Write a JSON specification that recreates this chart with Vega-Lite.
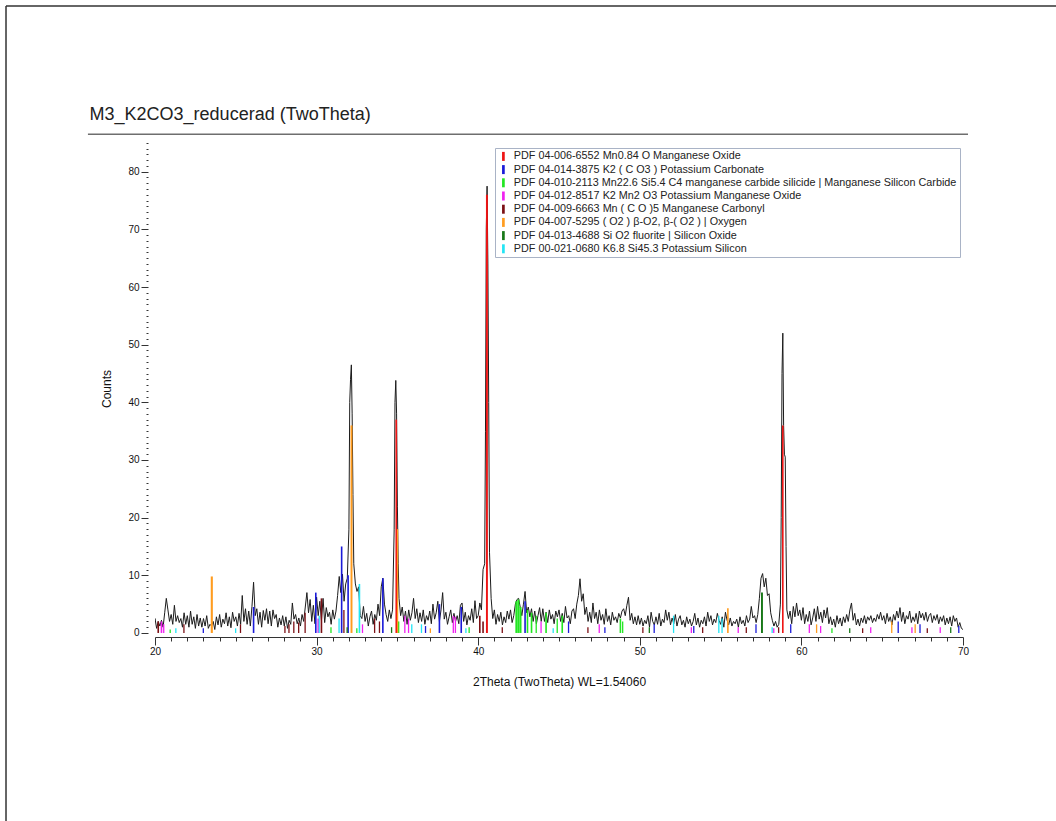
{
  "$schema": "https://vega.github.io/schema/vega-lite/v6.json",
  "autosize": "none",
  "width": 808,
  "height": 497,
  "padding": {"left": 155, "top": 140, "right": 93, "bottom": 184},
  "background": "white",
  "config": {
    "view": {"stroke": null},
    "font": "Liberation Sans"
  },
  "datasets": {
    "phases": [
      {"k": 1, "name": "PDF 04-006-6552 Mn0.84 O Manganese Oxide"},
      {"k": 2, "name": "PDF 04-014-3875 K2 ( C O3 ) Potassium Carbonate"},
      {"k": 3, "name": "PDF 04-010-2113 Mn22.6 Si5.4 C4 manganese carbide silicide | Manganese Silicon Carbide"},
      {"k": 4, "name": "PDF 04-012-8517 K2 Mn2 O3 Potassium Manganese Oxide"},
      {"k": 5, "name": "PDF 04-009-6663 Mn ( C O )5 Manganese Carbonyl"},
      {"k": 6, "name": "PDF 04-007-5295 ( O2 ) β-O2, β-( O2 ) | Oxygen"},
      {"k": 7, "name": "PDF 04-013-4688 Si O2 fluorite | Silicon Oxide"},
      {"k": 8, "name": "PDF 00-021-0680 K6.8 Si45.3 Potassium Silicon"}
    ],
    "scan": [
      {"t":19.8,"c":0.5},{"t":19.9,"c":1.0},
      {"t":20.0,"c":2.5},{"t":20.1,"c":0.8},{"t":20.2,"c":2.0},{"t":20.3,"c":1.2},{"t":20.4,"c":2.2},{"t":20.5,"c":1.0},{"t":20.6,"c":3.5},{"t":20.7,"c":6.0},{"t":20.8,"c":4.0},{"t":20.9,"c":2.0},
      {"t":21.0,"c":3.2},{"t":21.1,"c":1.5},{"t":21.2,"c":4.8},{"t":21.3,"c":2.0},{"t":21.4,"c":3.0},{"t":21.5,"c":1.8},{"t":21.6,"c":2.5},{"t":21.7,"c":1.0},{"t":21.8,"c":3.5},{"t":21.9,"c":1.5},
      {"t":22.0,"c":3.0},{"t":22.1,"c":1.0},{"t":22.2,"c":3.8},{"t":22.3,"c":1.5},{"t":22.4,"c":2.8},{"t":22.5,"c":0.8},{"t":22.6,"c":3.2},{"t":22.7,"c":1.2},{"t":22.8,"c":2.6},{"t":22.9,"c":1.0},
      {"t":23.0,"c":2.5},{"t":23.1,"c":1.2},{"t":23.2,"c":3.0},{"t":23.3,"c":0.8},{"t":23.4,"c":1.5},{"t":23.5,"c":1.2},{"t":23.6,"c":2.0},{"t":23.7,"c":0.6},{"t":23.8,"c":2.8},{"t":23.9,"c":1.4},
      {"t":24.0,"c":3.2},{"t":24.1,"c":1.0},{"t":24.2,"c":2.4},{"t":24.3,"c":1.6},{"t":24.4,"c":3.5},{"t":24.5,"c":1.2},{"t":24.6,"c":2.8},{"t":24.7,"c":0.9},{"t":24.8,"c":3.6},{"t":24.9,"c":2.0},
      {"t":25.0,"c":2.8},{"t":25.1,"c":1.2},{"t":25.2,"c":3.4},{"t":25.3,"c":1.5},{"t":25.4,"c":6.5},{"t":25.5,"c":2.0},{"t":25.6,"c":4.2},{"t":25.7,"c":1.5},{"t":25.8,"c":3.8},{"t":25.9,"c":1.2},
      {"t":26.0,"c":4.6},{"t":26.1,"c":8.8},{"t":26.2,"c":3.0},{"t":26.3,"c":4.2},{"t":26.4,"c":1.5},{"t":26.5,"c":3.6},{"t":26.6,"c":1.0},{"t":26.7,"c":3.9},{"t":26.8,"c":2.2},{"t":26.9,"c":4.2},
      {"t":27.0,"c":1.6},{"t":27.1,"c":3.8},{"t":27.2,"c":1.2},{"t":27.3,"c":4.0},{"t":27.4,"c":2.5},{"t":27.5,"c":3.2},{"t":27.6,"c":1.0},{"t":27.7,"c":2.6},{"t":27.8,"c":1.4},{"t":27.9,"c":3.0},
      {"t":28.0,"c":1.2},{"t":28.1,"c":2.8},{"t":28.2,"c":0.8},{"t":28.3,"c":2.2},{"t":28.4,"c":1.5},{"t":28.5,"c":5.2},{"t":28.6,"c":2.4},{"t":28.7,"c":3.2},{"t":28.8,"c":1.6},{"t":28.9,"c":2.6},
      {"t":29.0,"c":1.2},{"t":29.1,"c":3.2},{"t":29.2,"c":2.0},{"t":29.3,"c":4.5},{"t":29.4,"c":7.0},{"t":29.5,"c":3.5},{"t":29.6,"c":5.8},{"t":29.7,"c":2.0},{"t":29.8,"c":4.8},{"t":29.9,"c":1.6},
      {"t":30.0,"c":6.2},{"t":30.1,"c":3.0},{"t":30.2,"c":5.5},{"t":30.3,"c":2.2},{"t":30.4,"c":6.0},{"t":30.5,"c":1.8},{"t":30.6,"c":4.4},{"t":30.7,"c":2.8},{"t":30.8,"c":3.6},{"t":30.9,"c":1.5},
      {"t":31.0,"c":4.0},{"t":31.1,"c":2.4},{"t":31.2,"c":3.8},{"t":31.3,"c":6.5},{"t":31.4,"c":9.8},{"t":31.5,"c":7.0},{"t":31.6,"c":10.2},{"t":31.7,"c":5.5},{"t":31.8,"c":8.5},{"t":31.9,"c":9.5},
      {"t":32.0,"c":18.0},{"t":32.05,"c":40.0},{"t":32.1,"c":44.0},{"t":32.15,"c":46.5},{"t":32.2,"c":38.0},{"t":32.25,"c":24.0},{"t":32.3,"c":12.0},{"t":32.4,"c":8.5},{"t":32.5,"c":7.2},{"t":32.6,"c":8.0},{"t":32.7,"c":3.0},{"t":32.8,"c":2.5},{"t":32.9,"c":4.6},
      {"t":33.0,"c":2.0},{"t":33.1,"c":3.4},{"t":33.2,"c":1.2},{"t":33.3,"c":2.8},{"t":33.4,"c":3.8},{"t":33.5,"c":1.5},{"t":33.6,"c":3.2},{"t":33.7,"c":2.2},{"t":33.8,"c":5.0},{"t":33.9,"c":3.0},
      {"t":34.0,"c":8.0},{"t":34.1,"c":9.5},{"t":34.2,"c":5.0},{"t":34.3,"c":3.2},{"t":34.4,"c":2.0},{"t":34.5,"c":4.0},{"t":34.6,"c":2.5},{"t":34.7,"c":4.0},{"t":34.8,"c":18.0},{"t":34.85,"c":40.0},{"t":34.9,"c":43.8},{"t":34.95,"c":38.0},{"t":35.0,"c":22.0},{"t":35.05,"c":12.0},{"t":35.1,"c":6.0},{"t":35.2,"c":3.0},
      {"t":35.3,"c":4.5},{"t":35.4,"c":2.0},{"t":35.5,"c":3.8},{"t":35.6,"c":1.5},{"t":35.7,"c":4.0},{"t":35.8,"c":2.2},{"t":35.9,"c":3.5},
      {"t":36.0,"c":6.0},{"t":36.1,"c":2.5},{"t":36.2,"c":4.2},{"t":36.3,"c":1.8},{"t":36.4,"c":3.5},{"t":36.5,"c":2.0},{"t":36.6,"c":4.0},{"t":36.7,"c":1.5},{"t":36.8,"c":3.0},{"t":36.9,"c":2.2},
      {"t":37.0,"c":3.8},{"t":37.1,"c":1.6},{"t":37.2,"c":5.0},{"t":37.3,"c":2.4},{"t":37.4,"c":3.5},{"t":37.5,"c":5.5},{"t":37.6,"c":2.0},{"t":37.7,"c":4.0},{"t":37.8,"c":7.0},{"t":37.9,"c":2.4},
      {"t":38.0,"c":3.6},{"t":38.1,"c":1.5},{"t":38.2,"c":2.8},{"t":38.3,"c":4.0},{"t":38.4,"c":1.8},{"t":38.5,"c":3.4},{"t":38.6,"c":2.0},{"t":38.7,"c":3.0},{"t":38.8,"c":1.6},{"t":38.9,"c":4.8},
      {"t":39.0,"c":5.2},{"t":39.1,"c":2.0},{"t":39.2,"c":3.6},{"t":39.3,"c":1.4},{"t":39.4,"c":3.0},{"t":39.5,"c":2.2},{"t":39.6,"c":4.2},{"t":39.7,"c":1.8},{"t":39.8,"c":5.6},{"t":39.9,"c":2.5},
      {"t":40.0,"c":3.0},{"t":40.1,"c":5.2},{"t":40.2,"c":4.0},{"t":40.3,"c":11.0},{"t":40.4,"c":12.0},{"t":40.45,"c":35.0},{"t":40.5,"c":70.0},{"t":40.55,"c":77.5},{"t":40.6,"c":64.0},{"t":40.65,"c":40.0},{"t":40.7,"c":14.0},{"t":40.8,"c":6.0},{"t":40.9,"c":2.5},
      {"t":41.0,"c":4.0},{"t":41.1,"c":1.5},{"t":41.2,"c":3.2},{"t":41.3,"c":2.0},{"t":41.4,"c":3.6},{"t":41.5,"c":1.4},{"t":41.6,"c":2.8},{"t":41.7,"c":1.8},{"t":41.8,"c":3.8},{"t":41.9,"c":2.4},
      {"t":42.0,"c":4.0},{"t":42.1,"c":1.8},{"t":42.2,"c":3.0},{"t":42.3,"c":5.0},{"t":42.4,"c":5.8},{"t":42.5,"c":6.0},{"t":42.6,"c":4.5},{"t":42.7,"c":3.0},{"t":42.8,"c":5.0},{"t":42.9,"c":7.2},
      {"t":43.0,"c":3.5},{"t":43.1,"c":4.5},{"t":43.2,"c":2.8},{"t":43.3,"c":4.2},{"t":43.4,"c":2.0},{"t":43.5,"c":3.8},{"t":43.6,"c":1.6},{"t":43.7,"c":3.0},{"t":43.8,"c":4.4},{"t":43.9,"c":2.0},
      {"t":44.0,"c":4.2},{"t":44.1,"c":2.0},{"t":44.2,"c":3.6},{"t":44.3,"c":1.8},{"t":44.4,"c":4.0},{"t":44.5,"c":2.4},{"t":44.6,"c":3.2},{"t":44.7,"c":1.6},{"t":44.8,"c":3.8},{"t":44.9,"c":2.8},
      {"t":45.0,"c":4.0},{"t":45.1,"c":2.0},{"t":45.2,"c":3.4},{"t":45.3,"c":1.8},{"t":45.4,"c":4.6},{"t":45.5,"c":2.6},{"t":45.6,"c":3.0},{"t":45.7,"c":1.6},{"t":45.8,"c":3.8},{"t":45.9,"c":4.2},
      {"t":46.0,"c":2.5},{"t":46.1,"c":5.0},{"t":46.2,"c":6.5},{"t":46.3,"c":9.4},{"t":46.4,"c":5.5},{"t":46.5,"c":6.8},{"t":46.6,"c":3.2},{"t":46.7,"c":4.5},{"t":46.8,"c":2.0},{"t":46.9,"c":3.6},
      {"t":47.0,"c":1.8},{"t":47.1,"c":5.2},{"t":47.2,"c":2.5},{"t":47.3,"c":3.6},{"t":47.4,"c":1.6},{"t":47.5,"c":4.0},{"t":47.6,"c":2.2},{"t":47.7,"c":3.2},{"t":47.8,"c":1.5},{"t":47.9,"c":4.2},
      {"t":48.0,"c":2.0},{"t":48.1,"c":3.0},{"t":48.2,"c":1.4},{"t":48.3,"c":3.6},{"t":48.4,"c":2.2},{"t":48.5,"c":2.8},{"t":48.6,"c":1.8},{"t":48.7,"c":3.4},{"t":48.8,"c":2.6},{"t":48.9,"c":3.8},
      {"t":49.0,"c":4.2},{"t":49.1,"c":3.0},{"t":49.2,"c":4.8},{"t":49.3,"c":6.2},{"t":49.4,"c":2.2},{"t":49.5,"c":3.4},{"t":49.6,"c":1.6},{"t":49.7,"c":2.8},{"t":49.8,"c":1.4},{"t":49.9,"c":3.0},
      {"t":50.0,"c":1.5},{"t":50.1,"c":2.6},{"t":50.2,"c":1.2},{"t":50.3,"c":2.2},{"t":50.4,"c":1.6},{"t":50.5,"c":3.0},{"t":50.6,"c":1.0},{"t":50.7,"c":3.6},{"t":50.8,"c":2.0},{"t":50.9,"c":1.4},
      {"t":51.0,"c":2.8},{"t":51.1,"c":1.5},{"t":51.2,"c":3.4},{"t":51.3,"c":1.2},{"t":51.4,"c":2.4},{"t":51.5,"c":1.8},{"t":51.6,"c":4.0},{"t":51.7,"c":2.2},{"t":51.8,"c":3.6},{"t":51.9,"c":1.4},
      {"t":52.0,"c":2.6},{"t":52.1,"c":1.6},{"t":52.2,"c":3.2},{"t":52.3,"c":1.2},{"t":52.4,"c":2.4},{"t":52.5,"c":3.0},{"t":52.6,"c":1.4},{"t":52.7,"c":2.2},{"t":52.8,"c":1.0},{"t":52.9,"c":2.8},
      {"t":53.0,"c":1.6},{"t":53.1,"c":2.4},{"t":53.2,"c":1.2},{"t":53.3,"c":2.0},{"t":53.4,"c":3.4},{"t":53.5,"c":1.4},{"t":53.6,"c":2.6},{"t":53.7,"c":1.0},{"t":53.8,"c":2.2},{"t":53.9,"c":1.6},
      {"t":54.0,"c":2.8},{"t":54.1,"c":1.2},{"t":54.2,"c":3.6},{"t":54.3,"c":2.0},{"t":54.4,"c":3.0},{"t":54.5,"c":1.4},{"t":54.6,"c":2.4},{"t":54.7,"c":1.8},{"t":54.8,"c":3.4},{"t":54.9,"c":2.2},
      {"t":55.0,"c":1.5},{"t":55.1,"c":2.8},{"t":55.2,"c":1.0},{"t":55.3,"c":3.6},{"t":55.4,"c":2.2},{"t":55.5,"c":1.4},{"t":55.6,"c":2.6},{"t":55.7,"c":1.2},{"t":55.8,"c":2.0},{"t":55.9,"c":1.6},
      {"t":56.0,"c":2.4},{"t":56.1,"c":1.0},{"t":56.2,"c":2.8},{"t":56.3,"c":1.6},{"t":56.4,"c":2.2},{"t":56.5,"c":1.2},{"t":56.6,"c":3.0},{"t":56.7,"c":1.8},{"t":56.8,"c":2.4},{"t":56.9,"c":4.6},
      {"t":57.0,"c":2.6},{"t":57.1,"c":3.0},{"t":57.2,"c":1.8},{"t":57.3,"c":3.2},{"t":57.4,"c":6.0},{"t":57.5,"c":9.5},{"t":57.6,"c":10.3},{"t":57.7,"c":8.0},{"t":57.8,"c":9.5},{"t":57.9,"c":6.5},
      {"t":58.0,"c":6.8},{"t":58.1,"c":3.5},{"t":58.2,"c":2.2},{"t":58.3,"c":1.2},{"t":58.4,"c":2.0},{"t":58.5,"c":1.0},{"t":58.6,"c":1.5},{"t":58.7,"c":5.0},{"t":58.75,"c":20.0},{"t":58.8,"c":45.0},{"t":58.85,"c":52.0},{"t":58.9,"c":36.0},{"t":58.95,"c":31.0},{"t":59.0,"c":30.5},{"t":59.05,"c":15.0},{"t":59.1,"c":4.0},
      {"t":59.2,"c":2.5},{"t":59.3,"c":3.8},{"t":59.4,"c":1.6},{"t":59.5,"c":4.6},{"t":59.6,"c":2.8},{"t":59.7,"c":5.2},{"t":59.8,"c":3.0},{"t":59.9,"c":4.0},
      {"t":60.0,"c":2.2},{"t":60.1,"c":4.4},{"t":60.2,"c":1.6},{"t":60.3,"c":3.2},{"t":60.4,"c":2.0},{"t":60.5,"c":3.8},{"t":60.6,"c":1.4},{"t":60.7,"c":2.6},{"t":60.8,"c":4.2},{"t":60.9,"c":2.0},
      {"t":61.0,"c":4.6},{"t":61.1,"c":2.4},{"t":61.2,"c":3.6},{"t":61.3,"c":1.8},{"t":61.4,"c":4.0},{"t":61.5,"c":2.6},{"t":61.6,"c":4.4},{"t":61.7,"c":1.6},{"t":61.8,"c":2.8},{"t":61.9,"c":1.4},
      {"t":62.0,"c":2.4},{"t":62.1,"c":1.0},{"t":62.2,"c":3.0},{"t":62.3,"c":1.6},{"t":62.4,"c":2.6},{"t":62.5,"c":1.2},{"t":62.6,"c":2.8},{"t":62.7,"c":1.8},{"t":62.8,"c":3.2},{"t":62.9,"c":2.0},
      {"t":63.0,"c":4.0},{"t":63.1,"c":5.2},{"t":63.2,"c":2.2},{"t":63.3,"c":3.4},{"t":63.4,"c":1.4},{"t":63.5,"c":2.4},{"t":63.6,"c":1.2},{"t":63.7,"c":2.6},{"t":63.8,"c":1.8},{"t":63.9,"c":3.0},
      {"t":64.0,"c":1.6},{"t":64.1,"c":2.8},{"t":64.2,"c":2.2},{"t":64.3,"c":3.0},{"t":64.4,"c":1.8},{"t":64.5,"c":2.6},{"t":64.6,"c":2.0},{"t":64.7,"c":3.2},{"t":64.8,"c":2.4},{"t":64.9,"c":3.6},
      {"t":65.0,"c":2.2},{"t":65.1,"c":3.0},{"t":65.2,"c":1.6},{"t":65.3,"c":3.4},{"t":65.4,"c":2.0},{"t":65.5,"c":2.8},{"t":65.6,"c":1.4},{"t":65.7,"c":3.2},{"t":65.8,"c":2.2},{"t":65.9,"c":3.8},
      {"t":66.0,"c":2.6},{"t":66.1,"c":4.4},{"t":66.2,"c":2.0},{"t":66.3,"c":3.6},{"t":66.4,"c":1.6},{"t":66.5,"c":3.0},{"t":66.6,"c":2.4},{"t":66.7,"c":3.8},{"t":66.8,"c":1.8},{"t":66.9,"c":2.8},
      {"t":67.0,"c":2.0},{"t":67.1,"c":3.4},{"t":67.2,"c":1.6},{"t":67.3,"c":3.8},{"t":67.4,"c":2.6},{"t":67.5,"c":3.4},{"t":67.6,"c":2.2},{"t":67.7,"c":3.6},{"t":67.8,"c":2.0},{"t":67.9,"c":3.0},
      {"t":68.0,"c":3.4},{"t":68.1,"c":1.8},{"t":68.2,"c":3.0},{"t":68.3,"c":2.2},{"t":68.4,"c":3.2},{"t":68.5,"c":1.6},{"t":68.6,"c":2.8},{"t":68.7,"c":2.0},{"t":68.8,"c":3.0},{"t":68.9,"c":1.4},
      {"t":69.0,"c":2.6},{"t":69.1,"c":1.6},{"t":69.2,"c":2.8},{"t":69.3,"c":1.2},{"t":69.4,"c":3.0},{"t":69.5,"c":2.0},{"t":69.6,"c":2.6},{"t":69.7,"c":1.0},{"t":69.8,"c":1.8},{"t":69.9,"c":0.8},
      {"t":70.0,"c":0.6}
    ],
    "peaks": [
      {"k":1,"a":34.88,"b":34.98,"h":37},{"k":1,"a":40.48,"b":40.6,"h":76},{"k":1,"a":58.8,"b":58.9,"h":36},
      {"k":2,"a":22.95,"b":23.03,"h":0.8},{"k":2,"a":26.05,"b":26.15,"h":4.5},{"k":2,"a":29.9,"b":30.0,"h":7.0},{"k":2,"a":31.5,"b":31.6,"h":15},{"k":2,"a":31.9,"b":32.0,"h":10},{"k":2,"a":34.05,"b":34.15,"h":9.5},{"k":2,"a":36.7,"b":36.78,"h":1.2},{"k":2,"a":37.55,"b":37.65,"h":5},{"k":2,"a":38.9,"b":39.0,"h":4.5},{"k":2,"a":42.85,"b":42.95,"h":5.5},{"k":2,"a":45.55,"b":45.63,"h":2},{"k":2,"a":47.8,"b":47.88,"h":1},{"k":2,"a":50.85,"b":50.93,"h":1.5},{"k":2,"a":53.3,"b":53.38,"h":1.2},{"k":2,"a":57.15,"b":57.23,"h":1.5},{"k":2,"a":59.3,"b":59.38,"h":1.5},{"k":2,"a":65.95,"b":66.03,"h":2},{"k":2,"a":67.3,"b":67.38,"h":1.5},{"k":2,"a":69.7,"b":69.78,"h":1.2},
      {"k":3,"a":20.9,"b":20.98,"h":0.6},{"k":3,"a":30.85,"b":30.93,"h":1},{"k":3,"a":32.45,"b":32.53,"h":0.8},{"k":3,"a":35.02,"b":35.12,"h":2},{"k":3,"a":39.4,"b":39.48,"h":1},{"k":3,"a":42.3,"b":42.42,"h":5.5},{"k":3,"a":42.42,"b":42.55,"h":5.8},{"k":3,"a":42.55,"b":42.68,"h":4.5},{"k":3,"a":43.0,"b":43.1,"h":4},{"k":3,"a":43.25,"b":43.35,"h":3.5},{"k":3,"a":43.55,"b":43.63,"h":3},{"k":3,"a":44.15,"b":44.25,"h":3.5},{"k":3,"a":44.85,"b":44.93,"h":2.5},{"k":3,"a":45.15,"b":45.25,"h":3},{"k":3,"a":48.75,"b":48.85,"h":2.5},{"k":3,"a":48.9,"b":48.98,"h":2},{"k":3,"a":61.85,"b":61.93,"h":0.8},
      {"k":4,"a":20.35,"b":20.45,"h":2},{"k":4,"a":20.5,"b":20.58,"h":1.5},{"k":4,"a":30.05,"b":30.15,"h":2.5},{"k":4,"a":32.8,"b":32.88,"h":1.5},{"k":4,"a":35.42,"b":35.5,"h":3},{"k":4,"a":35.65,"b":35.73,"h":2.5},{"k":4,"a":38.42,"b":38.5,"h":3},{"k":4,"a":38.55,"b":38.63,"h":2.8},{"k":4,"a":43.85,"b":43.93,"h":2},{"k":4,"a":47.45,"b":47.53,"h":1.5},{"k":4,"a":53.15,"b":53.23,"h":1},{"k":4,"a":56.05,"b":56.13,"h":1},{"k":4,"a":58.25,"b":58.33,"h":0.8},{"k":4,"a":60.45,"b":60.53,"h":1.5},{"k":4,"a":61.15,"b":61.23,"h":1.2},{"k":4,"a":64.25,"b":64.33,"h":1},{"k":4,"a":66.8,"b":66.88,"h":1},{"k":4,"a":68.55,"b":68.63,"h":1},
      {"k":5,"a":20.15,"b":20.25,"h":2},{"k":5,"a":21.75,"b":21.83,"h":1.5},{"k":5,"a":25.25,"b":25.33,"h":1.5},{"k":5,"a":28.0,"b":28.08,"h":1.2},{"k":5,"a":28.25,"b":28.33,"h":1.5},{"k":5,"a":28.55,"b":28.63,"h":2},{"k":5,"a":28.85,"b":28.93,"h":1.8},{"k":5,"a":29.25,"b":29.33,"h":3.5},{"k":5,"a":30.25,"b":30.35,"h":6},{"k":5,"a":31.65,"b":31.73,"h":4},{"k":5,"a":33.55,"b":33.63,"h":2.5},{"k":5,"a":33.85,"b":33.93,"h":2},{"k":5,"a":40.05,"b":40.15,"h":3},{"k":5,"a":40.25,"b":40.35,"h":2},{"k":5,"a":41.45,"b":41.53,"h":1},{"k":5,"a":46.75,"b":46.83,"h":1},{"k":5,"a":50.15,"b":50.23,"h":1},{"k":5,"a":53.85,"b":53.93,"h":1},{"k":5,"a":56.55,"b":56.63,"h":1},{"k":5,"a":58.55,"b":58.63,"h":1},{"k":5,"a":63.75,"b":63.83,"h":0.8},{"k":5,"a":67.75,"b":67.83,"h":0.8},
      {"k":6,"a":23.45,"b":23.58,"h":9.8},{"k":6,"a":32.1,"b":32.22,"h":36},{"k":6,"a":34.97,"b":35.05,"h":18},{"k":6,"a":37.0,"b":37.08,"h":0.8},{"k":6,"a":55.4,"b":55.5,"h":4.3},{"k":6,"a":60.9,"b":60.98,"h":1.5},{"k":6,"a":65.55,"b":65.63,"h":2},{"k":6,"a":67.0,"b":67.08,"h":1.5},
      {"k":7,"a":31.85,"b":31.93,"h":1},{"k":7,"a":34.6,"b":34.68,"h":1},{"k":7,"a":50.55,"b":50.63,"h":1},{"k":7,"a":57.5,"b":57.62,"h":7},{"k":7,"a":62.95,"b":63.03,"h":0.8},{"k":7,"a":69.2,"b":69.28,"h":1},
      {"k":8,"a":21.25,"b":21.33,"h":0.8},{"k":8,"a":24.95,"b":25.03,"h":0.8},{"k":8,"a":30.12,"b":30.2,"h":3},{"k":8,"a":31.35,"b":31.43,"h":2.5},{"k":8,"a":32.6,"b":32.7,"h":8.5},{"k":8,"a":35.85,"b":35.93,"h":1.5},{"k":8,"a":36.45,"b":36.53,"h":1.5},{"k":8,"a":39.2,"b":39.28,"h":0.8},{"k":8,"a":44.6,"b":44.68,"h":0.8},{"k":8,"a":52.05,"b":52.13,"h":3},{"k":8,"a":54.85,"b":54.93,"h":3},{"k":8,"a":55.05,"b":55.13,"h":2.5},{"k":8,"a":58.15,"b":58.23,"h":1}
    ]
  },
  "layer": [
    {
      "description": "measured diffraction pattern; this layer carries both axes",
      "data": {"name": "scan"},
      "mark": {"type": "line", "color": "#1c1c1c", "strokeWidth": 1, "clip": true},
      "encoding": {
        "x": {
          "field": "t", "type": "quantitative",
          "scale": {"domain": [20, 70], "nice": false, "zero": false},
          "axis": {
            "title": "2Theta (TwoTheta) WL=1.54060",
            "values": [20,21,22,23,24,25,26,27,28,29,30,31,32,33,34,35,36,37,38,39,40,41,42,43,44,45,46,47,48,49,50,51,52,53,54,55,56,57,58,59,60,61,62,63,64,65,66,67,68,69,70],
            "tickCount": 200,
            "format": "d",
            "labelExpr": "datum.value % 10 === 0 ? datum.label : ''",
            "tickSize": {"condition": {"test": "datum.value % 10 === 0", "value": 8}, "value": 4},
            "labelOverlap": false,
            "labelFlush": false,
            "grid": false,
            "domainColor": "#333333",
            "tickColor": "#333333",
            "labelFont": "Liberation Sans",
            "labelFontSize": 10,
            "labelColor": "#111111",
            "labelPadding": 1,
            "titleFont": "Liberation Sans",
            "titleFontSize": 12,
            "titleFontWeight": "normal",
            "titleColor": "#111111",
            "titlePadding": 20
          }
        },
        "y": {
          "field": "c", "type": "quantitative",
          "scale": {"domain": [-0.7, 85.5], "nice": false, "zero": false},
          "axis": {
            "title": "Counts",
            "values": [0,1,2,3,4,5,6,7,8,9,10,11,12,13,14,15,16,17,18,19,20,21,22,23,24,25,26,27,28,29,30,31,32,33,34,35,36,37,38,39,40,41,42,43,44,45,46,47,48,49,50,51,52,53,54,55,56,57,58,59,60,61,62,63,64,65,66,67,68,69,70,71,72,73,74,75,76,77,78,79,80,81,82,83,84,85],
            "tickCount": 200,
            "format": "d",
            "labelExpr": "datum.value % 10 === 0 ? datum.label : ''",
            "tickSize": {"condition": {"test": "datum.value % 10 === 0", "value": 7}, "value": 2},
            "offset": 7,
            "domain": false,
            "labelOverlap": false,
            "labelFlush": false,
            "grid": false,
            "tickColor": "#333333",
            "labelFont": "Liberation Sans",
            "labelFontSize": 10,
            "labelColor": "#111111",
            "labelPadding": 2,
            "titleFont": "Liberation Sans",
            "titleFontSize": 12,
            "titleFontWeight": "normal",
            "titleColor": "#111111",
            "titlePadding": 14
          }
        }
      }
    },
    {
      "description": "page frame: left edge",
      "data": {"values": [{}]},
      "mark": {"type": "rule", "color": "#333333", "strokeWidth": 1.5},
      "encoding": {
        "x": {"datum": 10.78},
        "y": {"datum": 108.74},
        "y2": {"datum": -40}
      }
    },
    {
      "description": "page frame: top edge",
      "data": {"values": [{}]},
      "mark": {"type": "rule", "color": "#333333", "strokeWidth": 1.5},
      "encoding": {
        "x": {"datum": 10.78},
        "x2": {"datum": 76},
        "y": {"datum": 108.74}
      }
    },
    {
      "description": "chart heading",
      "data": {"values": [{"label": "M3_K2CO3_reducerad (TwoTheta)"}]},
      "mark": {"type": "text", "align": "left", "baseline": "alphabetic", "font": "Liberation Sans", "fontSize": 18, "color": "#222222"},
      "encoding": {
        "x": {"datum": 15.95},
        "y": {"datum": 88.9},
        "text": {"field": "label"}
      }
    },
    {
      "description": "rule under the chart heading",
      "data": {"values": [{}]},
      "mark": {"type": "rule", "color": "#6e6e6e", "strokeWidth": 1.5},
      "encoding": {
        "x": {"datum": 15.85},
        "x2": {"datum": 70.31},
        "y": {"datum": 86.5}
      }
    },
    {
      "description": "reference phase profiles",
      "data": {"name": "peaks"},
      "transform": [
        {"lookup": "k", "from": {"data": {"name": "phases"}, "key": "k", "fields": ["name"]}}
      ],
      "mark": {"type": "rect", "clip": true},
      "encoding": {
        "x": {"field": "a", "type": "quantitative"},
        "x2": {"field": "b"},
        "y": {"field": "h", "type": "quantitative"},
        "y2": {"datum": 0},
        "color": {
          "field": "name", "type": "nominal",
          "scale": {
            "domain": [
              "PDF 04-006-6552 Mn0.84 O Manganese Oxide",
              "PDF 04-014-3875 K2 ( C O3 ) Potassium Carbonate",
              "PDF 04-010-2113 Mn22.6 Si5.4 C4 manganese carbide silicide | Manganese Silicon Carbide",
              "PDF 04-012-8517 K2 Mn2 O3 Potassium Manganese Oxide",
              "PDF 04-009-6663 Mn ( C O )5 Manganese Carbonyl",
              "PDF 04-007-5295 ( O2 ) β-O2, β-( O2 ) | Oxygen",
              "PDF 04-013-4688 Si O2 fluorite | Silicon Oxide",
              "PDF 00-021-0680 K6.8 Si45.3 Potassium Silicon"
            ],
            "range": ["#ee1414", "#1a1ad8", "#22e622", "#f020f0", "#7b0f14", "#ff9c1f", "#187818", "#22e5f5"]
          },
          "legend": {
            "title": null,
            "orient": "none",
            "legendX": 340,
            "legendY": 8,
            "direction": "vertical",
            "padding": 3,
            "strokeColor": "#a9b3c6",
            "fillColor": "#ffffff",
            "symbolType": "M-0.3,-1L0.3,-1L0.3,1L-0.3,1Z",
            "symbolSize": 81,
            "symbolStrokeWidth": 0,
            "symbolOpacity": 1,
            "labelFont": "Liberation Sans",
            "labelFontSize": 10.8,
            "labelColor": "#222222",
            "labelLimit": 700,
            "labelOffset": 5,
            "rowPadding": 1.2
          }
        }
      }
    }
  ]
}
